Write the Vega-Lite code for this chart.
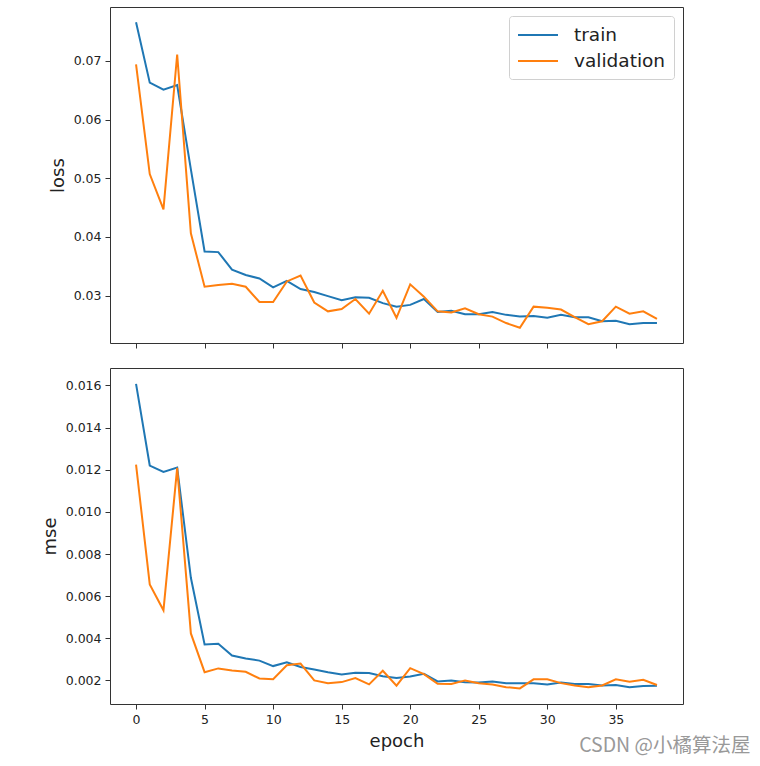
{
  "$schema": "https://vega.github.io/schema/vega-lite/v6.json",
  "padding": {"left": 40, "top": 6, "right": 5, "bottom": 5},
  "background": "white",
  "config": {
    "view": {"stroke": "#333", "strokeWidth": 1},
    "axis": {"domain": false, "grid": false, "tickColor": "#333", "tickSize": 5, "tickWidth": 1, "labelFont": "DejaVu Sans", "labelFontSize": 12.5, "labelColor": "#222", "labelPadding": 4, "titleFont": "DejaVu Sans", "titleFontSize": 18, "titleFontWeight": "normal", "titleColor": "#222", "titlePadding": 6},
    "legend": {"orient": "top-right", "offset": 9, "fillColor": "white", "strokeColor": "#d0d0d0", "cornerRadius": 3, "padding": 8, "symbolType": "M-1,0H3", "symbolSize": 400, "symbolStrokeWidth": 2, "labelFont": "DejaVu Sans", "labelFontSize": 18.5, "labelColor": "#222", "labelOffset": 35, "rowPadding": 5},
    "line": {"strokeWidth": 2}
  },
  "title": {"text": "CSDN @小橘算法屋", "orient": "bottom", "anchor": "end", "font": "Noto Sans CJK SC", "fontSize": 19.5, "fontWeight": "normal", "color": "#999999", "offset": 0, "dx": 67, "dy": -14},
  "datasets": {
    "hist": [
      {"epoch": 0, "series": "train", "loss": 0.0766, "mse": 0.01608},
      {"epoch": 1, "series": "train", "loss": 0.0663, "mse": 0.0122},
      {"epoch": 2, "series": "train", "loss": 0.0651, "mse": 0.0119},
      {"epoch": 3, "series": "train", "loss": 0.0659, "mse": 0.0121},
      {"epoch": 4, "series": "train", "loss": 0.0515, "mse": 0.00687},
      {"epoch": 5, "series": "train", "loss": 0.0375, "mse": 0.00371},
      {"epoch": 6, "series": "train", "loss": 0.0374, "mse": 0.00374},
      {"epoch": 7, "series": "train", "loss": 0.0344, "mse": 0.00318},
      {"epoch": 8, "series": "train", "loss": 0.0335, "mse": 0.00304},
      {"epoch": 9, "series": "train", "loss": 0.0329, "mse": 0.00294},
      {"epoch": 10, "series": "train", "loss": 0.0314, "mse": 0.00268},
      {"epoch": 11, "series": "train", "loss": 0.0325, "mse": 0.00286},
      {"epoch": 12, "series": "train", "loss": 0.0311, "mse": 0.00264},
      {"epoch": 13, "series": "train", "loss": 0.0306, "mse": 0.00252},
      {"epoch": 14, "series": "train", "loss": 0.0299, "mse": 0.00239},
      {"epoch": 15, "series": "train", "loss": 0.0292, "mse": 0.00228},
      {"epoch": 16, "series": "train", "loss": 0.0297, "mse": 0.00236},
      {"epoch": 17, "series": "train", "loss": 0.0296, "mse": 0.00235},
      {"epoch": 18, "series": "train", "loss": 0.0287, "mse": 0.0022},
      {"epoch": 19, "series": "train", "loss": 0.0281, "mse": 0.00211},
      {"epoch": 20, "series": "train", "loss": 0.0284, "mse": 0.00219},
      {"epoch": 21, "series": "train", "loss": 0.0294, "mse": 0.00231},
      {"epoch": 22, "series": "train", "loss": 0.0272, "mse": 0.00195},
      {"epoch": 23, "series": "train", "loss": 0.0274, "mse": 0.002},
      {"epoch": 24, "series": "train", "loss": 0.0268, "mse": 0.00191},
      {"epoch": 25, "series": "train", "loss": 0.0268, "mse": 0.0019},
      {"epoch": 26, "series": "train", "loss": 0.0272, "mse": 0.00195},
      {"epoch": 27, "series": "train", "loss": 0.0267, "mse": 0.00187},
      {"epoch": 28, "series": "train", "loss": 0.0264, "mse": 0.00186},
      {"epoch": 29, "series": "train", "loss": 0.0265, "mse": 0.00186},
      {"epoch": 30, "series": "train", "loss": 0.0262, "mse": 0.00181},
      {"epoch": 31, "series": "train", "loss": 0.0267, "mse": 0.0019},
      {"epoch": 32, "series": "train", "loss": 0.0263, "mse": 0.00183},
      {"epoch": 33, "series": "train", "loss": 0.0263, "mse": 0.00183},
      {"epoch": 34, "series": "train", "loss": 0.0256, "mse": 0.00176},
      {"epoch": 35, "series": "train", "loss": 0.0257, "mse": 0.00178},
      {"epoch": 36, "series": "train", "loss": 0.0251, "mse": 0.00168},
      {"epoch": 37, "series": "train", "loss": 0.0253, "mse": 0.00173},
      {"epoch": 38, "series": "train", "loss": 0.0253, "mse": 0.00175},
      {"epoch": 0, "series": "validation", "loss": 0.0694, "mse": 0.01224},
      {"epoch": 1, "series": "validation", "loss": 0.0507, "mse": 0.00656},
      {"epoch": 2, "series": "validation", "loss": 0.0447, "mse": 0.00533},
      {"epoch": 3, "series": "validation", "loss": 0.0711, "mse": 0.01209},
      {"epoch": 4, "series": "validation", "loss": 0.0406, "mse": 0.00423},
      {"epoch": 5, "series": "validation", "loss": 0.0315, "mse": 0.00239},
      {"epoch": 6, "series": "validation", "loss": 0.0318, "mse": 0.00257},
      {"epoch": 7, "series": "validation", "loss": 0.032, "mse": 0.00247},
      {"epoch": 8, "series": "validation", "loss": 0.0315, "mse": 0.00241},
      {"epoch": 9, "series": "validation", "loss": 0.0289, "mse": 0.00209},
      {"epoch": 10, "series": "validation", "loss": 0.0289, "mse": 0.00206},
      {"epoch": 11, "series": "validation", "loss": 0.0324, "mse": 0.00272},
      {"epoch": 12, "series": "validation", "loss": 0.0334, "mse": 0.0028},
      {"epoch": 13, "series": "validation", "loss": 0.0288, "mse": 0.002},
      {"epoch": 14, "series": "validation", "loss": 0.0273, "mse": 0.00187},
      {"epoch": 15, "series": "validation", "loss": 0.0277, "mse": 0.00192},
      {"epoch": 16, "series": "validation", "loss": 0.0294, "mse": 0.00211},
      {"epoch": 17, "series": "validation", "loss": 0.0269, "mse": 0.00181},
      {"epoch": 18, "series": "validation", "loss": 0.0308, "mse": 0.00246},
      {"epoch": 19, "series": "validation", "loss": 0.0262, "mse": 0.00175},
      {"epoch": 20, "series": "validation", "loss": 0.0319, "mse": 0.00258},
      {"epoch": 21, "series": "validation", "loss": 0.0298, "mse": 0.0023},
      {"epoch": 22, "series": "validation", "loss": 0.0273, "mse": 0.00184},
      {"epoch": 23, "series": "validation", "loss": 0.0271, "mse": 0.00183},
      {"epoch": 24, "series": "validation", "loss": 0.0278, "mse": 0.002},
      {"epoch": 25, "series": "validation", "loss": 0.0268, "mse": 0.00187},
      {"epoch": 26, "series": "validation", "loss": 0.0264, "mse": 0.00181},
      {"epoch": 27, "series": "validation", "loss": 0.0253, "mse": 0.00168},
      {"epoch": 28, "series": "validation", "loss": 0.0245, "mse": 0.00162},
      {"epoch": 29, "series": "validation", "loss": 0.0281, "mse": 0.00205},
      {"epoch": 30, "series": "validation", "loss": 0.0279, "mse": 0.00205},
      {"epoch": 31, "series": "validation", "loss": 0.0276, "mse": 0.00187},
      {"epoch": 32, "series": "validation", "loss": 0.0263, "mse": 0.00176},
      {"epoch": 33, "series": "validation", "loss": 0.0251, "mse": 0.00167},
      {"epoch": 34, "series": "validation", "loss": 0.0256, "mse": 0.00176},
      {"epoch": 35, "series": "validation", "loss": 0.0281, "mse": 0.00205},
      {"epoch": 36, "series": "validation", "loss": 0.0269, "mse": 0.00194},
      {"epoch": 37, "series": "validation", "loss": 0.0273, "mse": 0.00203},
      {"epoch": 38, "series": "validation", "loss": 0.026, "mse": 0.00178}
    ]
  },
  "data": {"name": "hist"},
  "spacing": 18,
  "resolve": {"legend": {"color": "independent"}},
  "vconcat": [
    {
      "width": 573,
      "height": 336,
      "mark": {"type": "line"},
      "encoding": {
        "x": {"field": "epoch", "type": "quantitative", "scale": {"domain": [-1.9, 39.9], "nice": false, "zero": false}, "axis": {"values": [0, 5, 10, 15, 20, 25, 30, 35], "labels": false, "title": null}},
        "y": {"field": "loss", "type": "quantitative", "scale": {"domain": [0.0219, 0.0792], "nice": false, "zero": false}, "axis": {"values": [0.03, 0.04, 0.05, 0.06, 0.07], "format": ".2f", "title": "loss"}},
        "color": {"field": "series", "type": "nominal", "scale": {"domain": ["train", "validation"], "range": ["#1f77b4", "#ff7f0e"]}, "legend": {"title": null}}
      }
    },
    {
      "width": 573,
      "height": 336,
      "mark": {"type": "line"},
      "encoding": {
        "x": {"field": "epoch", "type": "quantitative", "scale": {"domain": [-1.9, 39.9], "nice": false, "zero": false}, "axis": {"values": [0, 5, 10, 15, 20, 25, 30, 35], "title": "epoch", "titlePadding": 7}},
        "y": {"field": "mse", "type": "quantitative", "scale": {"domain": [0.00088, 0.01683], "nice": false, "zero": false}, "axis": {"values": [0.002, 0.004, 0.006, 0.008, 0.01, 0.012, 0.014, 0.016], "format": ".3f", "title": "mse"}},
        "color": {"field": "series", "type": "nominal", "scale": {"domain": ["train", "validation"], "range": ["#1f77b4", "#ff7f0e"]}, "legend": null}
      }
    }
  ]
}
